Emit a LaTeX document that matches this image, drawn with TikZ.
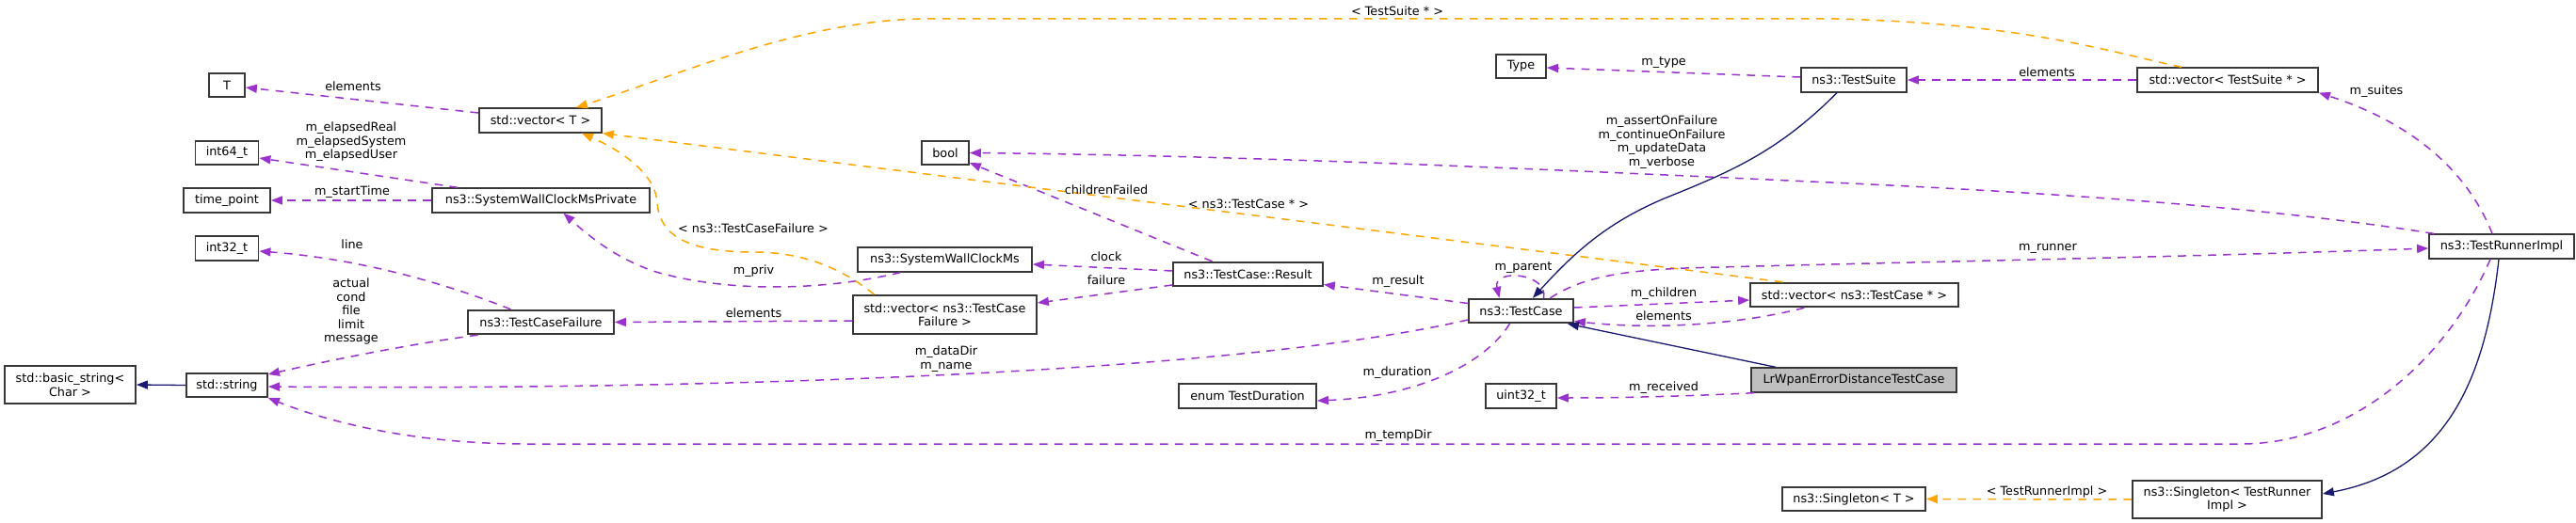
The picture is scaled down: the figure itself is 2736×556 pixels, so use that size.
\documentclass[tikz,border=0pt]{standalone}
\usepackage{fontspec}
\setmainfont{DejaVu Sans}
\usetikzlibrary{arrows.meta}
\definecolor{membc}{HTML}{9A32CD}
\definecolor{tmplc}{HTML}{FFA500}
\definecolor{inhc}{HTML}{191970}
\definecolor{boxline}{HTML}{383838}
\definecolor{mainfill}{HTML}{BFBFBF}
\newcommand{\dgfont}{\fontsize{12.8}{14.5}\selectfont}
\begin{document}
\begin{tikzpicture}[x=1pt,y=-1pt,
  box/.style={draw=boxline,line width=1.8pt,fill=white,inner sep=1pt,minimum height=25.5pt,align=center,font=\dgfont},
  lab/.style={font=\dgfont,align=center,inner sep=0pt},
  tipk/.style={-{Triangle[length=12pt,width=9pt]}},
  memb/.style={draw=membc,line width=1.5pt,dash pattern=on 8.7pt off 7.3pt,tipk},
  tmpl/.style={draw=tmplc,line width=1.5pt,dash pattern=on 8.7pt off 7.3pt,tipk},
  inh/.style={draw=inhc,line width=1.3pt,tipk}]
\useasboundingbox (0,0) rectangle (2736,556);
% nodes
\node[box,minimum width=38pt] (T) at (241,90.5) {T};
\node[box,minimum width=130pt] (vecT) at (574,128) {std::vector< T >};
\node[box,minimum width=67pt] (i64) at (241,162.5) {int64\_t};
\node[box,minimum width=92pt] (tp) at (241,213) {time\_point};
\node[box,minimum width=231pt] (swcmp) at (574.5,213) {ns3::SystemWallClockMsPrivate};
\node[box,minimum width=67pt] (i32) at (241,264) {int32\_t};
\node[box,minimum width=155pt] (tcf) at (574.5,342.5) {ns3::TestCaseFailure};
\node[box,minimum width=139pt,minimum height=40pt] (bstr) at (74.5,409) {std::basic\_string<\\Char >};
\node[box,minimum width=86pt] (str) at (241,409.5) {std::string};
\node[box,minimum width=50pt] (bool) at (1004,162.5) {bool};
\node[box,minimum width=185pt] (swcm) at (1003.5,276) {ns3::SystemWallClockMs};
\node[box,minimum width=159pt] (res) at (1325.5,291.5) {ns3::TestCase::Result};
\node[box,minimum width=195pt,minimum height=41pt] (vtcf) at (1003.5,334.5) {std::vector< ns3::TestCase\\Failure >};
\node[box,minimum width=146pt] (dur) at (1325,421) {enum TestDuration};
\node[box,minimum width=53pt] (type) at (1615.5,70.5) {Type};
\node[box,minimum width=112pt] (suite) at (1969,85) {ns3::TestSuite};
\node[box,minimum width=111pt] (tc) at (1615.5,330.5) {ns3::TestCase};
\node[box,minimum width=221pt] (vtc) at (1969.5,313.5) {std::vector< ns3::TestCase * >};
\node[box,fill=mainfill,minimum width=218pt] (lr) at (1969,404) {LrWpanErrorDistanceTestCase};
\node[box,minimum width=75pt] (u32) at (1615.5,421) {uint32\_t};
\node[box,minimum width=152pt] (sgT) at (1969,530.5) {ns3::Singleton< T >};
\node[box,minimum width=192pt] (vts) at (2366,85) {std::vector< TestSuite * >};
\node[box,minimum width=154pt] (tri) at (2657,262) {ns3::TestRunnerImpl};
\node[box,minimum width=201pt,minimum height=40pt] (sgTRI) at (2365.5,531) {ns3::Singleton< TestRunner\\Impl >};
% edges
\draw[memb] ([yshift=8pt]vecT.west) -- ([yshift=-2.5pt]T.east);
\draw[memb] ([xshift=28pt]swcmp.north west) -- ([yshift=-5.5pt]i64.east);
\draw[memb] (swcmp.west) -- (tp.east);
\draw[memb] ([xshift=-32pt]tcf.north) .. controls (470,300) and (380,275) .. ([yshift=-3pt]i32.east);
\draw[memb] ([xshift=-67pt]tcf.south) .. controls (440,365) and (350,383) .. ([yshift=11.5pt]str.east);
\draw[memb] ([yshift=-9.5pt]tc.west) .. controls (1300,400) and (700,415) .. ([yshift=-1.5pt]str.east);
\draw[memb] ([xshift=-12pt]tri.south) .. controls (2600,380) and (2500,472) .. (2380,472) -- (560,472) .. controls (430,472) and (340,445) .. (str.south east);
\draw[inh] (str.west) -- (bstr.east);
\draw[memb] ([xshift=-47pt]swcm.south) .. controls (880,308) and (780,312) .. (700,290) .. controls (660,278) and (630,255) .. ([xshift=24pt]swcmp.south);
\draw[memb] ([yshift=-6.5pt]vtcf.west) -- (tcf.east);
\draw[tmpl] ([xshift=-75pt]vtcf.north) .. controls (900,290) and (860,268) .. (800,268) .. controls (730,268) and (700,250) .. (698,215) .. controls (696,185) and (660,160) .. ([xshift=44pt]vecT.south);
\draw[memb] ([yshift=3.5pt]res.west) -- ([yshift=-5pt]swcm.east);
\draw[memb] ([yshift=-11.5pt]res.west) -- ([yshift=12.5pt]vtcf.east);
\draw[memb] ([xshift=-38pt]res.north) -- ([yshift=3pt]bool.south east);
\draw[memb] ([yshift=8pt]tc.west) -- ([yshift=-11pt]res.east);
\draw[memb] ([xshift=-12pt]tc.south) .. controls (1575,390) and (1500,422) .. ([yshift=-5pt]dur.east);
\draw[memb] ([xshift=24pt]tc.north) .. controls (1645,290) and (1585,285) .. ([xshift=-23pt]tc.north);
\draw[memb] ([yshift=3.5pt]tc.east) -- ([yshift=-5.5pt]vtc.west);
\draw[memb] ([xshift=-53pt]vtc.south) .. controls (1860,342) and (1770,352) .. ([yshift=-11pt]tc.east);
\draw[tmpl] ([xshift=-76pt]vtc.north) -- (vecT.south east);
\draw[memb] ([xshift=31pt]tc.north) .. controls (1680,295) and (1720,288) .. (1790,285) .. controls (2000,279) and (2300,274) .. ([yshift=-2pt]tri.west);
\draw[memb] ([xshift=-72pt]tri.north) .. controls (2420,222) and (2200,205) .. (1900,192) .. controls (1600,178) and (1300,165) .. (bool.east);
\draw[memb] ([xshift=-10pt]tri.north) .. controls (2620,180) and (2560,130) .. (vts.south east);
\draw[memb] (vts.west) -- (suite.east);
\draw[memb] ([yshift=3pt]suite.west) -- ([yshift=-1.5pt]type.east);
\draw[tmpl] ([xshift=-49pt]vts.north) .. controls (2240,55) and (2150,25) .. (1950,20) -- (980,20) .. controls (850,22) and (720,80) .. ([xshift=38pt]vecT.north);
\draw[inh] ([xshift=-18pt]suite.south) .. controls (1890,160) and (1840,182) .. (1770,210) .. controls (1710,235) and (1675,265) .. ([xshift=12.5pt]tc.north);
\draw[inh] ([xshift=27pt]lr.north west) -- ([xshift=-7pt]tc.south east);
\draw[memb] ([xshift=4pt]lr.south west) .. controls (1800,421) and (1720,423) .. ([yshift=-2pt]u32.east);
\draw[inh] ([xshift=-3pt]tri.south) .. controls (2640,400) and (2600,500) .. ([yshift=6pt]sgTRI.east);
\draw[tmpl] (sgTRI.west) -- (sgT.east);
% labels
\node[lab] (l1) at (375,92) {elements};
\node[lab] (l2) at (373,151) {m\_elapsedReal\\m\_elapsedSystem\\m\_elapsedUser};
\node[lab] (l3) at (374,204) {m\_startTime};
\node[lab] (l4) at (374,260) {line};
\node[lab] (l5) at (373,331) {actual\\cond\\file\\limit\\message};
\node[lab] (l6) at (800.5,288) {m\_priv};
\node[lab] (l7) at (800,243) {< ns3::TestCaseFailure >};
\node[lab] (l8) at (800.5,333) {elements};
\node[lab] (l9) at (1005,381.5) {m\_dataDir\\m\_name};
\node[lab] (l10) at (1175,202) {childrenFailed};
\node[lab] (l11) at (1326,217) {< ns3::TestCase * >};
\node[lab] (l12) at (1175,273) {clock};
\node[lab] (l13) at (1175,298) {failure};
\node[lab] (l14) at (1484,12) {< TestSuite * >};
\node[lab] (l15) at (1767,67) {m\_type};
\node[lab] (l16) at (1765,151) {m\_assertOnFailure\\m\_continueOnFailure\\m\_updateData\\m\_verbose};
\node[lab] (l17) at (1485,299) {m\_result};
\node[lab] (l18) at (1618,285) {m\_parent};
\node[lab] (l19) at (1767,312) {m\_children};
\node[lab] (l20) at (1767,336) {elements};
\node[lab] (l21) at (1484,396) {m\_duration};
\node[lab] (l22) at (1767,412) {m\_received};
\node[lab] (l23) at (1485,463) {m\_tempDir};
\node[lab] (l24) at (2174,77) {elements};
\node[lab] (l25) at (2524,97) {m\_suites};
\node[lab] (l26) at (2175,264) {m\_runner};
\node[lab] (l27) at (2174,523) {< TestRunnerImpl >};
\end{tikzpicture}
\end{document}
